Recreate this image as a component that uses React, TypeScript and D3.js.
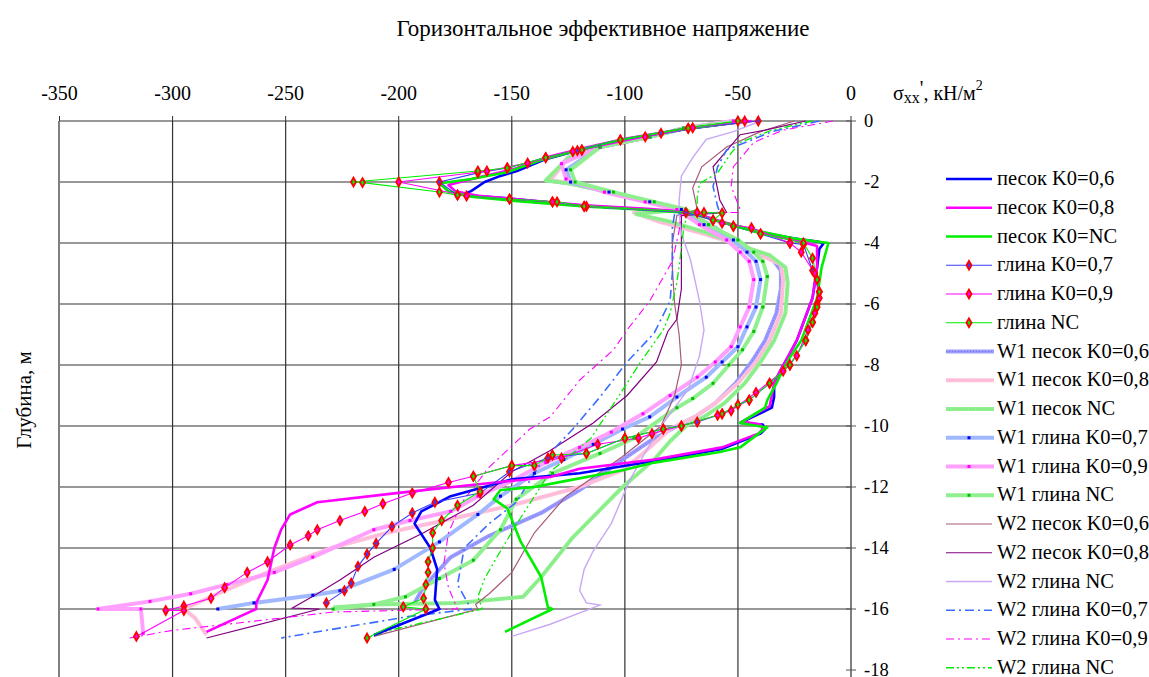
import { useMemo } from 'react';
import * as d3 from 'd3';

type P = [number, number];

// x ticks (top axis) and depth ticks (right axis)
const X_TICKS = [-350, -300, -250, -200, -150, -100, -50, 0];
const Y_TICKS = [0, -2, -4, -6, -8, -10, -12, -14, -16, -18];

// --- sand, thick lines ---
const sandK06: P[] = [[-45,0],[-72,-0.25],[-100,-0.6],[-120,-0.95],[-135,-1.25],[-148,-1.65],[-155,-1.8],[-162,-2.0],[-168,-2.3],[-172,-2.42],[-150,-2.55],[-118,-2.78],[-90,-2.9],[-70,-3.0],[-58,-3.3],[-40,-3.65],[-25,-3.85],[-15,-3.95],[-12,-4.0],[-14,-4.2],[-15,-4.8],[-17,-5.8],[-20,-6.4],[-24,-7.2],[-28,-7.75],[-31,-8.15],[-34,-8.6],[-34,-9.05],[-35,-9.4],[-49,-9.9],[-39,-9.95],[-38,-10.1],[-40,-10.25],[-57,-10.75],[-87,-11.15],[-120,-11.55],[-150,-11.75],[-177,-12.3],[-190,-12.8],[-193,-13.2],[-186,-14.0],[-183,-14.7],[-184,-15.7],[-182,-16.0],[-211,-16.85]];
const sandK08: P[] = [[-44,0],[-72,-0.24],[-100,-0.58],[-120,-0.92],[-135,-1.2],[-150,-1.6],[-165,-1.85],[-178,-2.1],[-175,-2.3],[-165,-2.45],[-150,-2.55],[-118,-2.76],[-90,-2.88],[-70,-3.0],[-58,-3.28],[-40,-3.65],[-25,-3.9],[-15,-4.1],[-15,-4.8],[-17,-5.8],[-20,-6.4],[-24,-7.2],[-28,-7.75],[-31,-8.15],[-34,-8.6],[-35,-9.0],[-36,-9.35],[-48,-9.85],[-40,-9.95],[-39,-10.1],[-41,-10.25],[-57,-10.7],[-87,-11.1],[-120,-11.4],[-133,-11.67],[-170,-11.95],[-201,-12.2],[-236,-12.5],[-248,-12.9],[-252,-13.4],[-255,-14.0],[-258,-15.05],[-263,-15.8],[-263,-16.0],[-285,-16.75]];
const sandNC: P[] = [[-46,0],[-74,-0.26],[-102,-0.62],[-122,-0.98],[-137,-1.28],[-152,-1.68],[-168,-1.9],[-182,-2.05],[-178,-2.3],[-168,-2.48],[-152,-2.6],[-118,-2.8],[-90,-2.92],[-70,-3.02],[-58,-3.3],[-40,-3.62],[-25,-3.85],[-10,-4.0],[-13,-4.8],[-15,-5.8],[-18,-6.4],[-22,-7.2],[-27,-7.75],[-30,-8.15],[-33,-8.6],[-37,-9.15],[-38,-9.4],[-49,-9.9],[-37,-10.05],[-40,-10.2],[-49,-10.7],[-58,-10.85],[-87,-11.2],[-101,-11.45],[-126,-11.8],[-140,-12.0],[-155,-12.1],[-158,-12.4],[-152,-12.7],[-146,-13.8],[-137,-14.95],[-134,-15.95],[-132,-16.0],[-153,-16.75]];

// --- clay, thin lines with red markers ---
const clayK07: P[] = [[-41,0],[-72,-0.24],[-84,-0.4],[-102,-0.62],[-121,-0.97],[-135,-1.2],[-152,-1.54],[-165,-1.7],[-182,-2.0],[-174,-2.43],[-151,-2.56],[-132,-2.65],[-118,-2.8],[-73,-3.0],[-61,-3.25],[-52,-3.45],[-40,-3.7],[-27,-4.0],[-21,-4.05],[-17,-4.9],[-14,-5.6],[-15,-6.0],[-17,-6.6],[-20,-7.2],[-27,-8.0],[-36,-8.6],[-45,-9.15],[-57,-9.6],[-68,-9.87],[-83,-10.1],[-100,-10.4],[-117,-10.9],[-134,-11.05],[-151,-11.5],[-164,-12.2],[-184,-12.5],[-194,-12.85],[-203,-13.3],[-210,-13.85],[-214,-14.2],[-218,-14.6],[-221,-15.15],[-224,-15.4],[-232,-15.8]];
const clayK09: P[] = [[-47,0],[-70,-0.22],[-91,-0.52],[-119,-0.95],[-123,-1.0],[-143,-1.38],[-161,-1.64],[-200,-2.0],[-170,-2.46],[-132,-2.65],[-117,-2.8],[-68,-3.0],[-57,-3.35],[-44,-3.5],[-27,-4.0],[-22,-4.3],[-16,-5.0],[-14,-5.8],[-16,-6.3],[-19,-6.85],[-24,-7.7],[-30,-8.2],[-42,-8.9],[-53,-9.5],[-59,-9.65],[-75,-10.0],[-88,-10.25],[-94,-10.4],[-112,-10.6],[-128,-11.05],[-150,-11.3],[-167,-11.65],[-178,-11.85],[-194,-12.2],[-207,-12.55],[-215,-12.8],[-226,-13.1],[-236,-13.4],[-240,-13.6],[-248,-13.9],[-258,-14.45],[-267,-14.8],[-277,-15.3],[-283,-15.65],[-295,-15.9],[-303,-16.05],[-295,-16.05],[-316,-16.9]];
const clayNC: P[] = [[-50,0],[-72,-0.24],[-102,-0.62],[-119,-0.95],[-135,-1.2],[-152,-1.54],[-165,-1.64],[-220,-2.0],[-216,-2.02],[-182,-2.33],[-174,-2.43],[-151,-2.56],[-130,-2.65],[-118,-2.8],[-65,-3.0],[-57,-3.02],[-61,-3.25],[-52,-3.45],[-40,-3.7],[-21,-4.0],[-17,-4.5],[-15,-5.2],[-14,-5.6],[-15,-6.1],[-17,-6.6],[-20,-7.2],[-27,-8.0],[-36,-8.6],[-45,-9.15],[-50,-9.3],[-57,-9.6],[-75,-10.0],[-83,-10.1],[-100,-10.4],[-117,-10.9],[-132,-10.95],[-140,-11.3],[-150,-11.3],[-167,-11.65],[-164,-12.15],[-174,-12.6],[-181,-13.1],[-185,-13.5],[-185,-14.0],[-187,-14.45],[-187,-14.8],[-188,-15.2],[-189,-15.65],[-198,-15.93],[-188,-16.0],[-214,-16.95]];

// --- W1, wide textured lines ---
const w1SandK06: P[] = [[-50,0],[-74,-0.24],[-89,-0.52],[-111,-0.85],[-125,-1.2],[-134,-1.95],[-124,-2.05],[-107,-2.33],[-89,-2.65],[-75,-2.9],[-70,-3.1],[-60,-3.5],[-52,-3.9],[-43,-4.3],[-35,-4.5],[-31,-4.9],[-31,-5.5],[-33,-6.3],[-38,-7.2],[-44,-7.9],[-51,-8.6],[-60,-9.25],[-69,-9.7],[-77,-10.0],[-89,-10.5],[-101,-11.1],[-120,-12.1],[-137,-12.85],[-160,-13.6],[-177,-14.3],[-185,-14.95],[-190,-15.4],[-193,-15.8]];
const w1SandK08: P[] = [[-52,0],[-74,-0.24],[-89,-0.52],[-111,-0.85],[-125,-1.2],[-133,-1.95],[-123,-2.05],[-107,-2.33],[-89,-2.65],[-75,-2.9],[-96,-3.0],[-85,-3.3],[-65,-3.7],[-52,-4.0],[-40,-4.4],[-31,-4.7],[-30,-5.2],[-31,-6.3],[-36,-7.2],[-42,-7.9],[-50,-8.6],[-60,-9.25],[-69,-9.7],[-80,-10.1],[-92,-10.9],[-101,-11.45],[-120,-12.0],[-150,-12.6],[-180,-13.1],[-205,-13.5],[-230,-14.0],[-258,-14.8],[-280,-15.5],[-295,-16.0],[-290,-16.3],[-285,-16.85]];
const w1SandNC: P[] = [[-48,0],[-74,-0.24],[-89,-0.52],[-111,-0.85],[-125,-1.2],[-135,-1.95],[-124,-2.05],[-107,-2.33],[-89,-2.65],[-75,-2.9],[-95,-3.05],[-80,-3.3],[-62,-3.7],[-48,-4.1],[-36,-4.4],[-29,-4.8],[-28,-5.3],[-29,-6.3],[-34,-7.2],[-40,-7.9],[-47,-8.6],[-56,-9.25],[-65,-9.7],[-73,-10.0],[-80,-10.5],[-87,-11.1],[-101,-12.0],[-111,-12.75],[-123,-13.65],[-137,-14.95],[-145,-15.6],[-174,-15.8],[-211,-15.85],[-229,-15.95]];
const w1ClayK07: P[] = [[-50,0],[-74,-0.24],[-89,-0.52],[-111,-0.85],[-126,-1.6],[-124,-2.0],[-107,-2.33],[-89,-2.65],[-75,-2.9],[-65,-3.4],[-52,-3.9],[-46,-4.3],[-42,-4.6],[-40,-5.2],[-42,-6.1],[-46,-6.75],[-50,-7.4],[-57,-7.9],[-64,-8.4],[-77,-9.05],[-89,-9.7],[-101,-10.1],[-114,-10.6],[-127,-11.1],[-140,-11.55],[-155,-12.3],[-165,-12.9],[-182,-13.8],[-202,-14.7],[-226,-15.4],[-238,-15.55],[-264,-15.8],[-280,-16.0]];
const w1ClayK09: P[] = [[-52,0],[-74,-0.24],[-89,-0.52],[-111,-0.85],[-128,-1.4],[-126,-1.9],[-109,-2.33],[-91,-2.65],[-77,-2.9],[-67,-3.4],[-55,-3.9],[-49,-4.3],[-45,-4.6],[-43,-5.2],[-45,-6.1],[-49,-6.75],[-53,-7.4],[-60,-7.9],[-68,-8.4],[-80,-9.0],[-92,-9.6],[-106,-10.2],[-120,-10.7],[-135,-11.2],[-150,-11.8],[-165,-12.3],[-177,-12.8],[-195,-13.1],[-211,-13.4],[-238,-14.3],[-255,-14.8],[-276,-15.2],[-292,-15.5],[-310,-15.75],[-333,-16.0],[-314,-16.0],[-313,-16.8]];
const w1ClayNC: P[] = [[-48,0],[-74,-0.24],[-89,-0.52],[-111,-0.85],[-124,-1.6],[-122,-2.0],[-105,-2.33],[-87,-2.65],[-73,-2.9],[-63,-3.4],[-50,-3.9],[-43,-4.3],[-39,-4.6],[-37,-5.1],[-39,-6.1],[-43,-6.9],[-48,-7.5],[-54,-8.0],[-61,-8.6],[-70,-9.1],[-77,-9.4],[-96,-10.4],[-111,-10.9],[-132,-11.55],[-148,-12.4],[-155,-13.4],[-167,-14.4],[-182,-15.0],[-197,-15.6],[-211,-15.85],[-229,-16.0]];

// --- W2, thin lines ---
const w2SandK06: P[] = [[-25,0],[-40,-0.35],[-55,-0.85],[-66,-1.5],[-70,-2.2],[-68,-2.9],[-77,-3.1],[-79,-4.0],[-79,-4.8],[-78,-6.0],[-76,-7.0],[-75,-8.0],[-78,-9.0],[-84,-10.0],[-101,-11.0],[-126,-12.3],[-140,-13.5],[-150,-14.8],[-160,-15.5],[-166,-15.85],[-165,-16.0],[-211,-16.9]];
const w2SandK08: P[] = [[-20,0],[-38,-0.3],[-49,-0.45],[-61,-1.5],[-58,-2.6],[-55,-3.0],[-75,-3.1],[-75,-4.0],[-75,-5.5],[-77,-6.5],[-81,-6.9],[-86,-7.9],[-99,-9.0],[-114,-9.9],[-133,-10.8],[-150,-11.5],[-167,-12.6],[-189,-13.5],[-211,-14.3],[-226,-15.05],[-236,-15.5],[-247,-15.97],[-235,-16.0],[-285,-16.95]];
const w2ClayNC: P[] = [[-40,0],[-52,-0.35],[-64,-0.6],[-70,-1.2],[-75,-1.8],[-76,-2.6],[-76,-3.0],[-75,-3.7],[-71,-4.55],[-67,-5.9],[-65,-6.85],[-67,-7.7],[-72,-8.8],[-84,-10.0],[-92,-11.0],[-98,-11.8],[-106,-13.2],[-114,-14.1],[-118,-14.7],[-120,-15.4],[-117,-15.8],[-111,-15.87],[-133,-16.5],[-150,-16.9]];
const w2ClayK07: P[] = [[-14,0],[-35,-0.35],[-55,-0.95],[-59,-1.5],[-61,-2.15],[-59,-2.8],[-58,-3.0],[-78,-3.05],[-79,-3.5],[-79,-5.0],[-80,-5.9],[-87,-6.95],[-99,-7.9],[-111,-9.05],[-123,-10.1],[-137,-11.2],[-148,-12.5],[-160,-13.2],[-171,-14.0],[-174,-15.2],[-168,-16.0],[-196,-16.25],[-252,-16.95]];
const w2ClayK09: P[] = [[-8,0],[-30,-0.3],[-43,-0.7],[-52,-1.5],[-53,-2.15],[-49,-2.9],[-50,-3.0],[-75,-3.0],[-76,-3.6],[-79,-4.6],[-89,-5.9],[-99,-6.85],[-105,-7.5],[-120,-8.5],[-133,-9.7],[-142,-10.1],[-160,-11.35],[-172,-12.5],[-178,-13.5],[-180,-14.5],[-178,-15.3],[-174,-16.0],[-229,-16.1],[-270,-16.45],[-300,-16.7],[-319,-16.95]];
const w2ClayNC2: P[] = [[-17,0],[-35,-0.3],[-49,-0.7],[-53,-1.05],[-59,-1.7],[-67,-2.05],[-68,-2.5],[-68,-2.9],[-72,-3.0],[-74,-3.5],[-75,-4.2],[-77,-5.3],[-80,-6.3],[-83,-6.85],[-93,-7.9],[-103,-9.05],[-115,-10.4],[-133,-11.5],[-146,-13.0],[-155,-14.1],[-162,-15.0],[-165,-15.6],[-163,-16.0],[-204,-16.7],[-214,-16.95]];

type Kind = 'thick' | 'clay' | 'w1' | 'w1dot' | 'thin' | 'dash';
interface Series { name: string; data: P[]; color: string; kind: Kind; dark?: string; width?: number; dash?: string; }

const SERIES: Series[] = [
  { name: 'песок K0=0,6', data: sandK06, color: '#0000ff', kind: 'thick' },
  { name: 'песок K0=0,8', data: sandK08, color: '#ff00ff', kind: 'thick' },
  { name: 'песок K0=NC', data: sandNC, color: '#00ee00', kind: 'thick' },
  { name: 'глина K0=0,7', data: clayK07, color: '#3b3bff', kind: 'clay' },
  { name: 'глина K0=0,9', data: clayK09, color: '#ff00ff', kind: 'clay' },
  { name: 'глина NC', data: clayNC, color: '#00ee00', kind: 'clay' },
  { name: 'W1 песок K0=0,6', data: w1SandK06, color: '#9c9cff', dark: '#5050ee', kind: 'w1' },
  { name: 'W1 песок K0=0,8', data: w1SandK08, color: '#ffc0dc', dark: '#ff9cc6', kind: 'w1' },
  { name: 'W1 песок NC', data: w1SandNC, color: '#90f090', dark: '#5ad85a', kind: 'w1' },
  { name: 'W1 глина K0=0,7', data: w1ClayK07, color: '#a0b8ff', dark: '#0000ee', kind: 'w1dot' },
  { name: 'W1 глина K0=0,9', data: w1ClayK09, color: '#ffa0ff', dark: '#ff00ff', kind: 'w1dot' },
  { name: 'W1 глина NC', data: w1ClayNC, color: '#90f090', dark: '#00c000', kind: 'w1dot' },
  { name: 'W2 песок K0=0,6', data: w2SandK06, color: '#a85a78', kind: 'thin', width: 1.2 },
  { name: 'W2 песок K0=0,8', data: w2SandK08, color: '#800080', kind: 'thin', width: 1.2 },
  { name: 'W2 глина NC', data: w2ClayNC, color: '#c8a8f4', kind: 'thin', width: 1.4 },
  { name: 'W2 глина K0=0,7', data: w2ClayK07, color: '#3a6cff', kind: 'dash', width: 1.6, dash: '9 4 2 4' },
  { name: 'W2 глина K0=0,9', data: w2ClayK09, color: '#ff00ff', kind: 'dash', width: 1.1, dash: '8 4 2 4' },
  { name: 'W2 глина NC', data: w2ClayNC2, color: '#00ee00', kind: 'dash', width: 1.3, dash: '8 3 2 3 2 3' },
];

const FONT = "'Liberation Serif', 'Times New Roman', 'DejaVu Serif', serif";
const W = 1149, H = 677;
const diamond = d3.symbol(d3.symbolDiamond, 22)();

function Line({ s, line }: { s: Series; line: d3.Line<P> }) {
  const d = line(s.data) ?? '';
  if (s.kind === 'thick') return <path d={d} fill="none" stroke={s.color} strokeWidth={2.6} strokeLinejoin="round" />;
  if (s.kind === 'clay') return <path d={d} fill="none" stroke={s.color} strokeWidth={1.1} />;
  if (s.kind === 'w1' || s.kind === 'w1dot')
    return (
      <g>
        <path d={d} fill="none" stroke={s.color} strokeWidth={4} strokeLinejoin="round" />
        {s.kind === 'w1' && <path d={d} fill="none" stroke={s.dark} strokeWidth={1} strokeDasharray="1 2" opacity={0.6} />}
      </g>
    );
  return <path d={d} fill="none" stroke={s.color} strokeWidth={s.width ?? 1} strokeDasharray={s.dash} />;
}

export default function App() {
  const x = useMemo(() => d3.scaleLinear().domain([-350, 0]).range([59.5, 851]), []);
  const y = useMemo(() => d3.scaleLinear().domain([0, -18]).range([121, 670]), []);
  const line = useMemo(() => d3.line<P>().x((d) => x(d[0])).y((d) => y(d[1])), [x, y]);

  const order = [6, 7, 8, 9, 10, 11, 12, 13, 14, 15, 16, 17, 0, 1, 2, 3, 4, 5].map((i) => SERIES[i]);
  const legendY = (i: number) => 179 + i * 28.75;

  return (
    <svg width={W} height={H} style={{ position: 'absolute', left: 0, top: 0, background: '#fff', fontFamily: FONT }}>
      <rect width={W} height={H} fill="#fff" />
      <text x={603} y={36} textAnchor="middle" fontSize={23}>Горизонтальное эффективное напряжение</text>

      {/* grid */}
      {X_TICKS.slice(1, -1).map((t) => (
        <line key={'gx' + t} x1={x(t)} x2={x(t)} y1={121} y2={H} stroke="#333" strokeWidth={1.2} />
      ))}
      {Y_TICKS.slice(0, -1).map((t) => (
        <line key={'gy' + t} x1={59} x2={851} y1={y(t)} y2={y(t)} stroke="#333" strokeWidth={1.2} />
      ))}
      <line x1={59} x2={59} y1={121} y2={H} stroke="#808080" strokeWidth={2} />
      <line x1={851} x2={851} y1={121} y2={H} stroke="#555" strokeWidth={1.5} />

      {/* top axis */}
      {X_TICKS.map((t) => (
        <g key={'tx' + t}>
          <line x1={x(t)} x2={x(t)} y1={116} y2={121} stroke="#333" />
          <text x={x(t)} y={100} textAnchor="middle" fontSize={20}>{t}</text>
        </g>
      ))}
      <text x={893} y={100} fontSize={20}>
        σ<tspan fontSize={16} dy={3}>xx</tspan><tspan dy={-8}>'</tspan><tspan dy={5}>, кН/м</tspan><tspan fontSize={14} dy={-10}>2</tspan>
      </text>

      {/* right axis */}
      {Y_TICKS.map((t) => (
        <g key={'ty' + t}>
          <line x1={846} x2={856} y1={y(t)} y2={y(t)} stroke="#555" />
          <text x={864} y={y(t) + 6} fontSize={18.5}>{t}</text>
        </g>
      ))}
      <text transform="translate(31,400) rotate(-90)" textAnchor="middle" fontSize={21}>Глубина, м</text>

      {/* series */}
      <g>
        {order.map((s) => <Line key={s.name} s={s} line={line} />)}
        {SERIES.filter((s) => s.kind === 'w1dot').map((s) =>
          s.data.map((p, i) => (
            <rect key={s.name + i} x={x(p[0]) - 1.5} y={y(p[1]) - 1.5} width={3} height={3} fill={s.dark} />
          )),
        )}
        {SERIES.filter((s) => s.kind === 'clay').map((s) =>
          s.data.map((p, i) => (
            <path key={s.name + i} d={diamond} transform={`translate(${x(p[0])},${y(p[1])})`} fill={s.color} stroke="#ff0000" strokeWidth={1.8} />
          )),
        )}
      </g>

      {/* legend */}
      {SERIES.map((s, i) => {
        const ly = legendY(i);
        return (
          <g key={'lg' + s.name}>
            {s.kind === 'thick' && <line x1={946} x2={992} y1={ly} y2={ly} stroke={s.color} strokeWidth={2.6} />}
            {s.kind === 'clay' && (
              <g>
                <line x1={946} x2={992} y1={ly} y2={ly} stroke={s.color} strokeWidth={1.1} />
                <path d={diamond} transform={`translate(969,${ly})`} fill={s.color} stroke="#ff0000" strokeWidth={1.8} />
              </g>
            )}
            {(s.kind === 'w1' || s.kind === 'w1dot') && (
              <g>
                <line x1={946} x2={994} y1={ly} y2={ly} stroke={s.color} strokeWidth={4} />
                {s.kind === 'w1' && <line x1={946} x2={994} y1={ly} y2={ly} stroke={s.dark} strokeWidth={1} strokeDasharray="1 2" opacity={0.6} />}
                {s.kind === 'w1dot' && <rect x={967.5} y={ly - 1.5} width={3} height={3} fill={s.dark} />}
              </g>
            )}
            {(s.kind === 'thin' || s.kind === 'dash') && (
              <line x1={946} x2={992} y1={ly} y2={ly} stroke={s.color} strokeWidth={s.width ?? 1} strokeDasharray={s.dash} />
            )}
            <text x={997} y={ly + 6} fontSize={20.5}>{s.name}</text>
          </g>
        );
      })}
    </svg>
  );
}
